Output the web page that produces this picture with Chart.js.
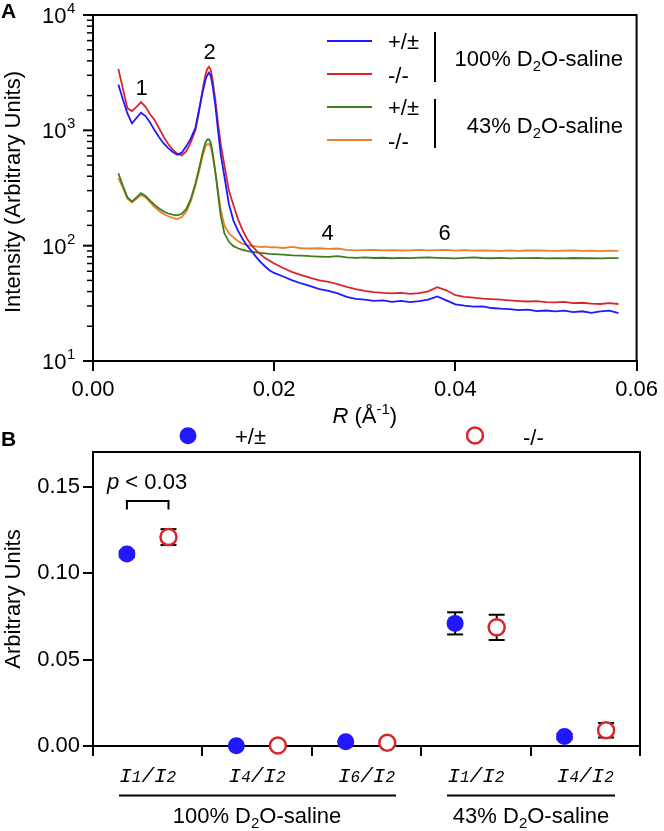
<!DOCTYPE html>
<html>
<head>
<meta charset="utf-8">
<script src="https://cdn.jsdelivr.net/npm/chart.js@4"></script>
<style>
  body { margin: 0; background: #fff; }
  #wrap { position: relative; width: 664px; height: 831px; }
  canvas { position: absolute; left: 0; }
</style>
</head>
<body>
<div id="wrap">
  <canvas id="chartA" width="664" height="432" style="top:0"></canvas>
  <canvas id="chartB" width="664" height="411" style="top:420px"></canvas>
</div>
<script>
// ---------- Panel A data: scattering profiles ----------
const rValues = [0.0028, 0.0033, 0.0038, 0.0043, 0.0048, 0.0053, 0.0058, 0.0063, 0.0068, 0.0073,
  0.0078, 0.0083, 0.0088, 0.0093, 0.0098, 0.0103, 0.0108, 0.0113,
  0.0117, 0.0121, 0.0124, 0.0126, 0.0128, 0.0130, 0.0132, 0.0135, 0.0138, 0.0141, 0.0145,
  0.0150, 0.0155, 0.0160, 0.0165, 0.0170, 0.0175, 0.0180, 0.0185, 0.0190, 0.0195, 0.0200,
  0.021, 0.022, 0.023, 0.024, 0.025, 0.026, 0.027, 0.028, 0.029, 0.030,
  0.031, 0.032, 0.033, 0.034, 0.035, 0.036, 0.037, 0.038, 0.039, 0.040,
  0.041, 0.042, 0.043, 0.044, 0.045, 0.046, 0.047, 0.048, 0.049, 0.050,
  0.051, 0.052, 0.053, 0.054, 0.055, 0.056, 0.057, 0.058];

// +/± in 100% D2O-saline
const het100 = [2500, 1850, 1400, 1150, 1280, 1420, 1330, 1170, 1000, 870,
  770, 700, 650, 615, 640, 730, 850, 1050,
  1500, 2150, 2700, 3000, 3170, 2950, 2450, 1650, 1000, 620, 400,
  230, 165, 135, 115, 100, 90, 80, 72, 66, 61, 58,
  54, 50, 47, 44.5, 42, 40.5, 38.5, 36, 34.5, 34,
  33.2, 33.6, 32.6, 33.2, 32.4, 33, 34, 36.3, 33.5, 31,
  30.2, 29.6, 29.8, 28.8, 28.4, 28.2, 27.6, 27.9, 27.1, 27.4,
  26.9, 27.3, 26.5, 27, 26.1, 26.9, 27.3, 26];

// -/- in 100% D2O-saline
const ko100 = [3400, 2300, 1550, 1470, 1600, 1760, 1600, 1380, 1230, 1040,
  880, 760, 680, 630, 605, 660, 790, 1000,
  1450, 2250, 3000, 3400, 3550, 3350, 2750, 1850, 1150, 760, 500,
  300, 225, 170, 137, 115, 101, 91, 84, 78, 74, 70,
  64, 59, 55.5, 52.5, 50, 48.5, 46.5, 44, 42, 40.5,
  39.6, 39, 38.6, 38.9, 38.2, 38.8, 40.2, 43.6, 41, 37.2,
  36, 35.4, 34.8, 34.4, 34, 33.5, 33.1, 32.8, 33.1, 32.4,
  32.2, 32.6, 31.8, 32, 31.5, 31.2, 31.7, 31.2];

// +/± in 43% D2O-saline
const het43 = [425, 330, 262, 242, 262, 285, 270, 246, 226, 210,
  198, 190, 186, 183, 189, 208, 255, 345,
  465, 640, 780, 830, 835, 780, 640, 440, 280, 180, 128,
  108, 99, 95, 92, 90, 88.5, 87.5, 86.5, 85.8, 85, 84.5,
  83.5, 82.5, 82, 81, 80.5, 80, 81, 79, 78.5, 79,
  78.2, 78.6, 77.8, 78.4, 78, 78.8, 79.2, 78.5, 78, 77.6,
  78.4, 79, 78.2, 77.8, 78.3, 77.6, 78.1, 77.9, 78.5, 77.7,
  78, 77.6, 78.2, 77.8, 78, 77.5, 78.1, 77.9];

// -/- in 43% D2O-saline
const ko43 = [385, 318, 255, 236, 255, 275, 262, 238, 216, 200,
  188, 180, 174, 170, 177, 197, 243, 330,
  440, 600, 720, 760, 765, 720, 600, 430, 295, 205, 150,
  128, 118, 110, 104, 101, 99.5, 98.5, 97, 98, 96.5, 97,
  95.5, 97.5, 95, 94.5, 95, 93.8, 94.5, 92, 91, 91.5,
  92, 91, 91.6, 90.8, 91.2, 91.8, 91, 91.4, 92, 90.6,
  91.3, 90.4, 91, 90.6, 90.2, 91.1, 90.3, 90.8, 91.2, 90.5,
  90, 90.7, 91, 90.2, 90.6, 89.8, 90.4, 90];

const genotypeLabels = ["+/±", "-/-"];
const salineLabels = ["100% D", "43% D"];   // followed by subscript 2 + "O-saline"
const xTicksA = [0, 0.02, 0.04, 0.06];
const decadesA = [1, 2, 3, 4];
const peakOrders = ["1", "2", "4", "6"];
const peakR = [0.00537, 0.01286, 0.0259, 0.0388];
const peakI = [2030, 4160, 112, 112];

// ---------- Panel B data: peak intensity ratios ----------
const ratioNum = ["1", "4", "6", "1", "4"];
const ratioDen = ["2", "2", "2", "2", "2"];
const hetMean = [0.111, 0.0002, 0.0025, 0.0709, 0.0055];
const hetErr = [0.0018, 0.0003, 0.0005, 0.0064, 0.0015];
const koMean = [0.1208, 0.0003, 0.0019, 0.0686, 0.0091];
const koErr = [0.0046, 0.0004, 0.0006, 0.0073, 0.0042];
const yTicksB = [0, 0.05, 0.10, 0.15];

const BLUE = "#2218ff";
const RED = "#d7262b";
const GREEN = "#3d7d1d";
const ORANGE = "#eb7f2b";
const FONT = "'Liberation Sans', Arial, sans-serif";

Chart.defaults.font.family = FONT;
Chart.defaults.color = "#000";

// draw a run of text pieces: [text, font, dy]
function drawParts(ctx, parts, x, y, align) {
  let w = 0;
  parts.forEach(p => { ctx.font = p[1]; w += ctx.measureText(p[0]).width; });
  let cx = align === "center" ? x - w / 2 : align === "right" ? x - w : x;
  ctx.textAlign = "left";
  ctx.textBaseline = "alphabetic";
  parts.forEach(p => {
    ctx.font = p[1];
    ctx.fillText(p[0], cx, y + (p[2] || 0));
    cx += ctx.measureText(p[0]).width;
  });
}

function salineParts(prefix) {
  return [[prefix, "22px " + FONT], ["2", "15px " + FONT, 5], ["O-saline", "22px " + FONT]];
}

function drawBox(ctx, area) {
  ctx.save();
  ctx.strokeStyle = "#000";
  ctx.lineWidth = 2;
  ctx.beginPath();
  ctx.moveTo(area.left, area.top);
  ctx.lineTo(area.right, area.top);
  ctx.lineTo(area.right, area.bottom);
  ctx.stroke();
  ctx.restore();
}

function line(ctx, x1, y1, x2, y2) {
  ctx.beginPath();
  ctx.moveTo(x1, y1);
  ctx.lineTo(x2, y2);
  ctx.stroke();
}

// ---------- Panel A ----------
const panelA = {
  id: "panelA",
  afterDraw(chart) {
    const { ctx, chartArea: area, scales: { x, y } } = chart;
    drawBox(ctx, area);
    ctx.save();
    ctx.fillStyle = "#000";
    ctx.strokeStyle = "#000";

    // log ticks (minor + major) from the scale's own ticks
    y.ticks.forEach(t => {
      const py = y.getPixelForValue(t.value);
      const major = Math.abs(Math.log10(t.value) - Math.round(Math.log10(t.value))) < 1e-9;
      ctx.lineWidth = major ? 2 : 1.5;
      line(ctx, area.left - (major ? 10 : 6), py, area.left, py);
    });
    decadesA.forEach(n => {
      const py = y.getPixelForValue(Math.pow(10, n));
      drawParts(ctx, [["10", "22px " + FONT]], 66.5, py + 8, "right");
      drawParts(ctx, [[String(n), "15px " + FONT]], 67, py - 2, "left");
    });

    // peak order labels
    peakOrders.forEach((s, i) => {
      drawParts(ctx, [[s, "22px " + FONT]], x.getPixelForValue(peakR[i]), y.getPixelForValue(peakI[i]), "center");
    });

    // legend
    const colors = [BLUE, RED, GREEN, ORANGE];
    const rows = [41, 74, 107, 140];
    colors.forEach((c, i) => {
      ctx.strokeStyle = c;
      ctx.lineWidth = 2;
      line(ctx, 327, rows[i], 372, rows[i]);
      drawParts(ctx, [[genotypeLabels[i % 2], "22px " + FONT]], 388, rows[i] + (i % 2 ? 9 : 8), "left");
    });
    ctx.strokeStyle = "#000";
    ctx.lineWidth = 2;
    line(ctx, 435, 32, 435, 82);
    line(ctx, 435, 99, 435, 148);
    drawParts(ctx, salineParts(salineLabels[0]), 623, 66, "right");
    drawParts(ctx, salineParts(salineLabels[1]), 623, 133, "right");

    // axis titles
    drawParts(ctx, [["R", "italic 22px " + FONT], [" (Å", "22px " + FONT], ["-1", "15px " + FONT, -9], [")", "22px " + FONT]],
      (area.left + area.right) / 2, 423, "center");
    ctx.save();
    ctx.translate(19.5, (area.top + area.bottom) / 2 + 4);
    ctx.rotate(-Math.PI / 2);
    drawParts(ctx, [["Intensity (Arbitrary Units)", "22px " + FONT]], 0, 0, "center");
    ctx.restore();

    drawParts(ctx, [["A", "bold 21px " + FONT]], 1, 18, "left");
    ctx.restore();
  }
};

const seriesA = [het100, ko100, het43, ko43];
const colorsA = [BLUE, RED, GREEN, ORANGE];

new Chart(document.getElementById("chartA"), {
  type: "line",
  data: {
    datasets: seriesA.map((s, i) => ({
      label: genotypeLabels[i % 2],
      data: rValues.map((r, j) => ({ x: r, y: s[j] })),
      borderColor: colorsA[i],
      borderWidth: 1.8,
      pointRadius: 0,
      tension: 0,
      fill: false
    }))
  },
  options: {
    responsive: false,
    animation: false,
    layout: { padding: { left: 0, right: 24, top: 15, bottom: 0 } },
    plugins: { legend: { display: false }, tooltip: { enabled: false } },
    scales: {
      x: {
        type: "linear", min: xTicksA[0], max: xTicksA[xTicksA.length - 1],
        ticks: { stepSize: 0.02, callback: v => v.toFixed(2), font: { size: 22 }, color: "#000", padding: 6, maxRotation: 0 },
        grid: { display: true, drawOnChartArea: false, tickLength: 10, color: "#000", lineWidth: 2 },
        border: { display: true, color: "#000", width: 2 },
        afterFit: s => { s.height = 71; }
      },
      y: {
        type: "logarithmic", min: 10, max: 10000,
        ticks: { display: false, autoSkip: false },
        grid: { display: false },
        border: { display: true, color: "#000", width: 2 },
        afterFit: s => { s.width = 93; }
      }
    }
  },
  plugins: [panelA]
});

// ---------- Panel B ----------
const OFFSET = 0.19;
const TOP_B = 420; // page offset of the lower canvas

const panelB = {
  id: "panelB",
  beforeDatasetsDraw(chart) {
    const { ctx, scales: { x, y } } = chart;
    ctx.save();
    ctx.strokeStyle = "#000";
    ctx.lineWidth = 2;
    [[hetMean, hetErr, -OFFSET], [koMean, koErr, OFFSET]].forEach(([m, e, off]) => {
      m.forEach((v, i) => {
        const px = x.getPixelForValue(i + 1 + off);
        const top = y.getPixelForValue(v + e[i]);
        const bot = y.getPixelForValue(v - e[i]);
        line(ctx, px, top, px, bot);
        line(ctx, px - 8, top, px + 8, top);
        line(ctx, px - 8, bot, px + 8, bot);
      });
    });
    ctx.restore();
  },
  afterDraw(chart) {
    const { ctx, chartArea: area, scales: { x } } = chart;
    drawBox(ctx, area);
    ctx.save();
    ctx.fillStyle = "#000";
    ctx.strokeStyle = "#000";
    const top = TOP_B;

    // category labels I_n/I_2
    const mono = "italic 21px 'Liberation Mono', 'DejaVu Sans Mono', monospace";
    const monoSmall = "italic 16px 'Liberation Mono', 'DejaVu Sans Mono', monospace";
    ratioNum.forEach((n, i) => {
      drawParts(ctx, [["I", mono], [n, monoSmall], ["/", mono], ["I", mono], [ratioDen[i], monoSmall]],
        x.getPixelForValue(i + 1), 782 - top, "center");
    });

    // group lines and labels
    ctx.lineWidth = 2;
    line(ctx, 119, 795.5 - top, 396, 795.5 - top);
    line(ctx, 447, 795.5 - top, 615, 795.5 - top);
    drawParts(ctx, salineParts(salineLabels[0]), 257, 823 - top, "center");
    drawParts(ctx, salineParts(salineLabels[1]), 531, 823 - top, "center");

    // legend
    ctx.fillStyle = BLUE;
    ctx.beginPath();
    ctx.arc(188, 435.7 - top, 8.5, 0, Math.PI * 2);
    ctx.fill();
    ctx.strokeStyle = RED;
    ctx.lineWidth = 2.5;
    ctx.beginPath();
    ctx.arc(475, 435.5 - top, 8, 0, Math.PI * 2);
    ctx.stroke();
    ctx.fillStyle = "#000";
    drawParts(ctx, [[genotypeLabels[0], "22px " + FONT]], 235, 444 - top, "left");
    drawParts(ctx, [[genotypeLabels[1], "22px " + FONT]], 523, 445 - top, "left");

    // significance bracket
    ctx.strokeStyle = "#000";
    ctx.lineWidth = 2;
    const bx1 = x.getPixelForValue(1 - OFFSET), bx2 = x.getPixelForValue(1 + OFFSET);
    ctx.beginPath();
    ctx.moveTo(bx1, 509.5 - top);
    ctx.lineTo(bx1, 501 - top);
    ctx.lineTo(bx2, 501 - top);
    ctx.lineTo(bx2, 509.5 - top);
    ctx.stroke();
    drawParts(ctx, [["p", "italic 22px " + FONT], [" < 0.03", "22px " + FONT]], 107, 489 - top, "left");

    // y title
    ctx.save();
    ctx.translate(19.5, (area.top + area.bottom) / 2);
    ctx.rotate(-Math.PI / 2);
    drawParts(ctx, [["Arbitrary Units", "22px " + FONT]], 0, 0, "center");
    ctx.restore();

    drawParts(ctx, [["B", "bold 21px " + FONT]], 1, 446 - top, "left");
    ctx.restore();
  }
};

new Chart(document.getElementById("chartB"), {
  type: "scatter",
  data: {
    datasets: [
      {
        label: genotypeLabels[0],
        data: hetMean.map((v, i) => ({ x: i + 1 - OFFSET, y: v })),
        pointRadius: 8.5,
        pointBackgroundColor: BLUE,
        pointBorderWidth: 0,
        clip: false
      },
      {
        label: genotypeLabels[1],
        data: koMean.map((v, i) => ({ x: i + 1 + OFFSET, y: v })),
        pointRadius: 8,
        pointBackgroundColor: "#fff",
        pointBorderColor: RED,
        pointBorderWidth: 2.5,
        clip: false
      }
    ]
  },
  options: {
    responsive: false,
    animation: false,
    layout: { padding: { left: 0, right: 24, top: 32, bottom: 0 } },
    plugins: { legend: { display: false }, tooltip: { enabled: false } },
    scales: {
      x: {
        type: "linear", min: 0.5, max: 5.5,
        ticks: { stepSize: 1, display: false, includeBounds: false },
        grid: { display: true, drawOnChartArea: false, tickLength: 10, color: "#000", lineWidth: 2 },
        border: { display: true, color: "#000", width: 2 },
        afterFit: s => { s.height = 85; }
      },
      y: {
        type: "linear", min: yTicksB[0], max: 0.17,
        ticks: { stepSize: 0.05, includeBounds: false, callback: v => v.toFixed(2), font: { size: 22 }, color: "#000", padding: 3 },
        grid: { display: true, drawOnChartArea: false, tickLength: 10, color: "#000", lineWidth: 2 },
        border: { display: true, color: "#000", width: 2 },
        afterFit: s => { s.width = 93; }
      }
    }
  },
  plugins: [panelB]
});
</script>
</body>
</html>
